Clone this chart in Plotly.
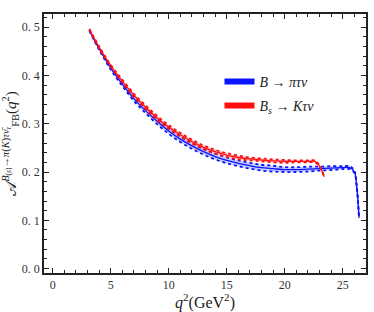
import plotly.graph_objects as go

# ---- data ----
q2_b = [3.16, 4, 5, 6, 7, 8, 9, 10, 11, 12, 13, 14, 15, 16, 17, 18, 19, 20, 21, 22, 23, 24, 25, 25.6, 26.0, 26.2, 26.4]
afb_b = [0.493, 0.455, 0.415, 0.382, 0.352, 0.327, 0.305, 0.285, 0.268, 0.254, 0.242, 0.232, 0.224, 0.218,
         0.213, 0.209, 0.207, 0.205, 0.205, 0.206, 0.207, 0.208, 0.209, 0.209, 0.200, 0.170, 0.105]
err_b = [0.001, 0.002, 0.003, 0.004, 0.005, 0.005, 0.006, 0.006, 0.006, 0.006, 0.006, 0.006, 0.006, 0.006,
         0.006, 0.006, 0.006, 0.005, 0.005, 0.005, 0.004, 0.004, 0.003, 0.003, 0.002, 0.001, 0.0]

q2_k = [3.16, 4, 5, 6, 7, 8, 9, 10, 11, 12, 13, 14, 15, 16, 17, 18, 19, 20, 21, 22, 22.6, 23.0, 23.4]
afb_k = [0.495, 0.458, 0.420, 0.388, 0.359, 0.334, 0.312, 0.293, 0.277, 0.263, 0.251, 0.242, 0.235, 0.230,
         0.227, 0.225, 0.223, 0.222, 0.222, 0.222, 0.222, 0.212, 0.190]
err_k = [0.001, 0.002, 0.002, 0.003, 0.003, 0.004, 0.004, 0.004, 0.004, 0.004, 0.004, 0.004, 0.004, 0.004,
         0.003, 0.003, 0.003, 0.003, 0.002, 0.002, 0.002, 0.001, 0.0]

x_ticks = [0, 5, 10, 15, 20, 25]
y_ticks = [0.0, 0.1, 0.2, 0.3, 0.4, 0.5]
y_ticktext = ["0. 0", "0. 1", "0. 2", "0. 3", "0. 4", "0. 5"]

name_b = "<i>B</i> → <i>πτν</i>"
name_k = "<i>B<sub>s</sub></i> → <i>Kτν</i>"

FONT = "Liberation Serif, DejaVu Serif, serif"

fig = go.Figure()


def add_band(x, y, e, color, fillc, name, grp):
    up = [a + b for a, b in zip(y, e)]
    lo = [a - b for a, b in zip(y, e)]
    fig.add_trace(go.Scatter(x=x, y=lo, mode="lines", line=dict(color=color, width=1.8, dash="dot", shape="spline"),
                             showlegend=False, hoverinfo="skip", legendgroup=grp))
    fig.add_trace(go.Scatter(x=x, y=up, mode="lines", line=dict(color=color, width=1.8, dash="dot", shape="spline"),
                             fill="tonexty", fillcolor=fillc, showlegend=False, hoverinfo="skip", legendgroup=grp))
    fig.add_trace(go.Scatter(x=x, y=y, mode="lines", line=dict(color=color, width=1.3, shape="spline"),
                             showlegend=False, legendgroup=grp))
    fig.add_trace(go.Scatter(x=[None], y=[None], mode="lines", line=dict(color=color, width=6), name=name,
                             legendgroup=grp))


add_band(q2_b, afb_b, err_b, "#0a14ff", "rgba(60,80,255,0.30)", name_b, "b")
add_band(q2_k, afb_k, err_k, "#ff1010", "rgba(255,60,60,0.30)", name_k, "k")

axis_common = dict(showgrid=False, zeroline=False, showline=True, linecolor="#222", linewidth=1.5,
                   mirror="ticks", ticks="inside", ticklen=5, tickwidth=1, tickcolor="#222",
                   automargin=False,
                   tickfont=dict(family=FONT, size=12, color="#333"))

fig.update_xaxes(range=[-0.75, 27.0], tickvals=x_ticks,
                 minor=dict(dtick=1, ticks="inside", ticklen=3, tickcolor="#222"),
                 title=dict(text="<i>q</i><sup>2</sup>(GeV<sup>2</sup>)", font=dict(family=FONT, size=16, color="#222"),
                            standoff=2),
                 **axis_common)
fig.update_yaxes(range=[-0.009, 0.527], tickvals=y_ticks, ticktext=y_ticktext,
                 minor=dict(dtick=0.02, ticks="inside", ticklen=3, tickcolor="#222"),
                 title=dict(text="𝒜<sup><i>B</i><sub>(<i>s</i>)</sub>→<i>π</i>(<i>K</i>)<i>τν̄<sub>τ</sub></i></sup><sub>FB</sub>(<i>q</i><sup>2</sup>)",
                            font=dict(family=FONT, size=15, color="#222"), standoff=2),
                 **axis_common)

fig.update_layout(
    width=374, height=312,
    margin=dict(l=44, r=8, t=14, b=39),
    plot_bgcolor="white", paper_bgcolor="white",
    font=dict(family=FONT, color="#222"),
    legend=dict(x=0.545, y=0.80, xanchor="left", yanchor="top", bgcolor="rgba(0,0,0,0)", traceorder="grouped",
                font=dict(family=FONT, size=14, color="#222"), itemwidth=30, tracegroupgap=3),
)

fig.write_html("out.html", post_script="document.body.style.margin='0';",
               config={"displayModeBar": False})
